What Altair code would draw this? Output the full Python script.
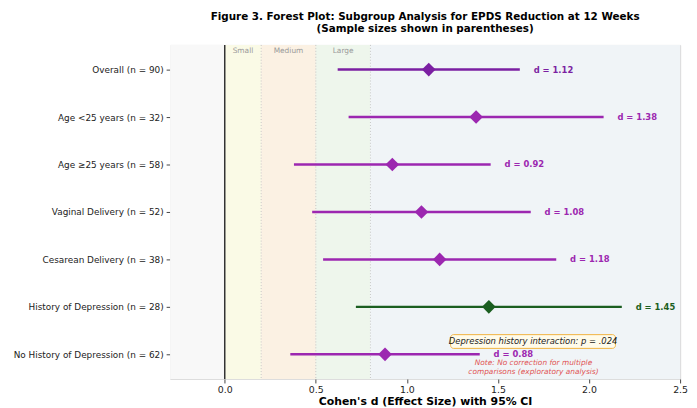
import altair as alt
import pandas as pd

groups = ["Overall (n = 90)", "Age <25 years (n = 32)", "Age \u226525 years (n = 58)",
          "Vaginal Delivery (n = 52)", "Cesarean Delivery (n = 38)",
          "History of Depression (n = 28)", "No History of Depression (n = 62)"]
d_vals = [1.12, 1.38, 0.92, 1.08, 1.18, 1.45, 0.88]
ci_low = [0.62, 0.68, 0.38, 0.48, 0.54, 0.72, 0.36]
ci_high = [1.62, 2.08, 1.46, 1.68, 1.82, 2.18, 1.40]
colors = ["#7b1fa2", "#9c27b0", "#9c27b0", "#9c27b0", "#9c27b0", "#1b5e20", "#9c27b0"]

band_start = [-0.3, 0.0, 0.2, 0.5, 0.8]
band_end = [0.0, 0.2, 0.5, 0.8, 2.5]
band_fill = ["#f8f8f8", "#fafae6", "#fbf1e3", "#eef6ec", "#f0f4f7"]
band_names = ["", "Small", "Medium", "Large", ""]

W, H = 516, 338
XD = [-0.3, 2.5]
YD = [6.52, -0.52]

df = pd.DataFrame({"row": list(range(len(groups))), "group": groups, "d": d_vals,
                   "lo": ci_low, "hi": ci_high, "color": colors,
                   "label": [f"d = {v:.2f}" for v in d_vals]})
bands = pd.DataFrame({"x": band_start, "x2": band_end, "fill": band_fill, "name": band_names})

xs = alt.Scale(domain=XD, nice=False, zero=False)
ys = alt.Scale(domain=YD, nice=False, zero=False)

label_expr = "[" + ",".join("'" + g + "'" for g in groups) + "][datum.value]"

bg = alt.Chart(bands).mark_rect().encode(
    x=alt.X("x:Q", scale=xs, title="Cohen's d (Effect Size) with 95% CI",
            axis=alt.Axis(values=[0, 0.5, 1.0, 1.5, 2.0, 2.5], format=".1f", grid=True,
                          gridColor="#dcdcdc", gridWidth=0.8, labelFontSize=9.5,
                          labelColor="#222", tickColor="#444", tickSize=4, labelFlush=False,
                          domain=False, titleFontSize=11, titleFontWeight="bold",
                          titleColor="#000", titlePadding=1, labelPadding=2)),
    x2="x2:Q",
    y=alt.value(0), y2=alt.value(H),
    color=alt.Color("fill:N", scale=None),
)

bounds = pd.DataFrame({"x": [0.2, 0.5, 0.8]})
bline = alt.Chart(bounds).mark_rule(strokeDash=[1, 2], color="#bbbbbb", strokeWidth=0.8).encode(
    x=alt.X("x:Q", scale=xs))

zero = alt.Chart(pd.DataFrame({"x": [0.0]})).mark_rule(color="#333333", strokeWidth=1.5).encode(
    x=alt.X("x:Q", scale=xs))

bandlab = alt.Chart(bands[bands["name"] != ""].assign(mid=lambda t: (t.x + t.x2) / 2)).mark_text(
    fontSize=7.5, color="#999999", baseline="top", dy=0).encode(
    x=alt.X("mid:Q", scale=xs), y=alt.value(2), text="name:N")

ci = alt.Chart(df).mark_rule(strokeWidth=2.5).encode(
    x=alt.X("lo:Q", scale=xs), x2="hi:Q",
    y=alt.Y("row:Q", scale=ys, title=None,
            axis=alt.Axis(values=list(range(len(groups))), labelExpr=label_expr,
                          labelFontSize=9, labelColor="#222", tickColor="#444", tickSize=4,
                          grid=False, domain=False, labelPadding=3)),
    color=alt.Color("color:N", scale=None))

pts = alt.Chart(df).mark_point(shape="diamond", filled=True, size=190, opacity=1).encode(
    x=alt.X("d:Q", scale=xs), y=alt.Y("row:Q", scale=ys), color=alt.Color("color:N", scale=None))

lab = alt.Chart(df).mark_text(align="left", fontSize=8.5, fontWeight="bold", dx=14).encode(
    x=alt.X("hi:Q", scale=xs), y=alt.Y("row:Q", scale=ys), text="label:N",
    color=alt.Color("color:N", scale=None))

box = alt.Chart(pd.DataFrame({"x": [1.24], "x2": [2.145], "y": [5.585], "y2": [5.875]})).mark_rect(
    fill="#fffbea", stroke="#f0b341", strokeWidth=1, cornerRadius=3).encode(
    x=alt.X("x:Q", scale=xs), x2="x2:Q", y=alt.Y("y:Q", scale=ys), y2="y2:Q")

boxtext = alt.Chart(pd.DataFrame({"x": [1.693], "y": [5.73], "t": ["Depression history interaction: p = .024"]})).mark_text(
    fontSize=8.5, fontStyle="italic", color="#222").encode(
    x=alt.X("x:Q", scale=xs), y=alt.Y("y:Q", scale=ys), text="t:N")

note = alt.Chart(pd.DataFrame({"x": [1.695, 1.695], "y": [6.19, 6.375],
                               "t": ["Note: No correction for multiple", "comparisons (exploratory analysis)"]})).mark_text(
    fontSize=7.5, fontStyle="italic", color="#e05555").encode(
    x=alt.X("x:Q", scale=xs), y=alt.Y("y:Q", scale=ys), text="t:N")

chart = alt.layer(bg, bline, zero, bandlab, ci, pts, lab, box, boxtext, note).properties(
    width=W, height=H,
    title=alt.TitleParams(["Figure 3. Forest Plot: Subgroup Analysis for EPDS Reduction at 12 Weeks",
                           "(Sample sizes shown in parentheses)"],
                          fontSize=10.5, fontWeight="bold", color="#000", anchor="middle",
                          offset=10, lineHeight=12),
    autosize=alt.AutoSizeParams(type="none"),
    padding={"left": 164, "top": 35, "right": 9, "bottom": 28},
).configure_view(stroke="#888888", strokeWidth=1).configure(font="DejaVu Sans")

chart.save("out.html", embed_options={"renderer": "svg", "actions": False})
